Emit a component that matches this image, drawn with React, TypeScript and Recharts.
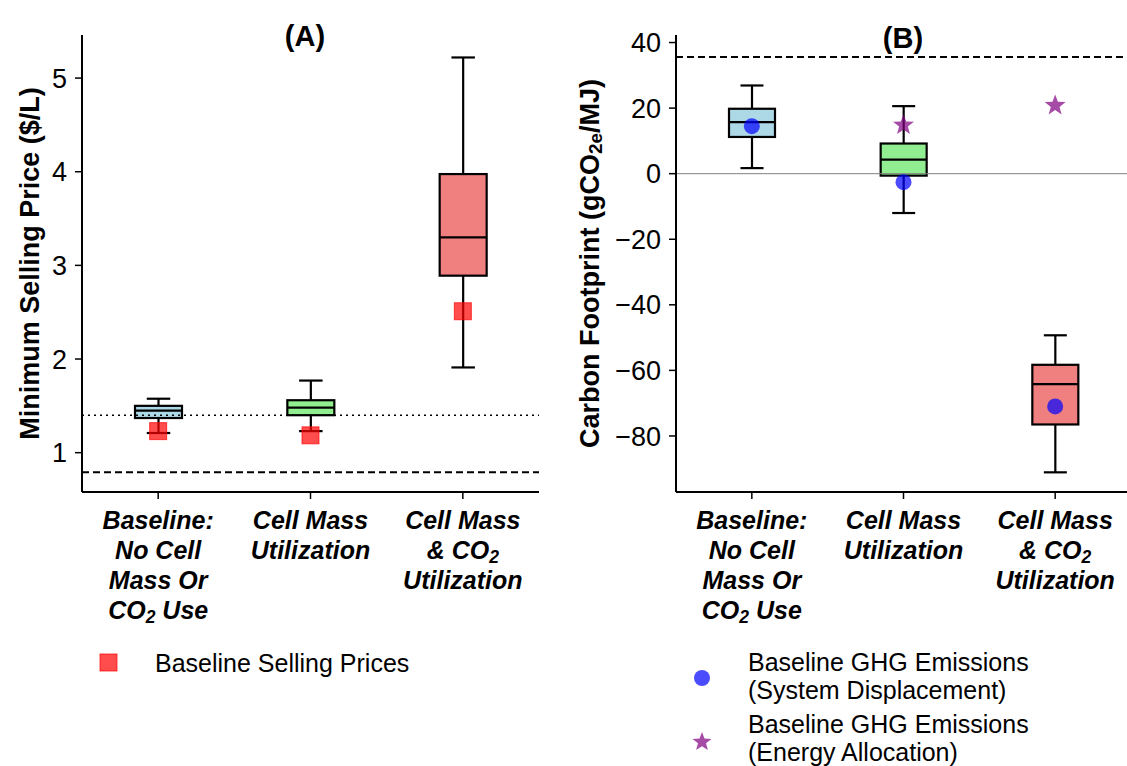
import React from 'react'
import { ComposedChart, Bar, Scatter, XAxis, YAxis, ReferenceLine } from 'recharts'

// categories and their multi-line tick labels ({..} = subscript)
const categories = ['Baseline', 'Cell Mass', 'Cell Mass & CO2']
const categoryLines = [
  ['Baseline:', 'No Cell', 'Mass Or', 'CO{2} Use'],
  ['Cell Mass', 'Utilization'],
  ['Cell Mass', '& CO{2}', 'Utilization'],
]
const boxColors = ['#ADD8E6', '#90EE90', '#F08080']

// (A) minimum selling price, $/L
const priceLow = [1.21, 1.23, 1.91]
const priceQ1 = [1.37, 1.4, 2.89]
const priceMedian = [1.45, 1.48, 3.3]
const priceQ3 = [1.5, 1.56, 3.975]
const priceHigh = [1.576, 1.77, 5.22]
const baselinePrice = [1.23, 1.185, 2.51]
const priceTicks = [1, 2, 3, 4, 5]
const priceDotted = 1.4
const priceDashed = 0.79

// (B) carbon footprint, gCO2e/MJ
const ghgLow = [1.7, -12.0, -91.1]
const ghgQ1 = [11.2, -0.6, -76.5]
const ghgMedian = [15.7, 4.3, -64.2]
const ghgQ3 = [19.8, 9.2, -58.3]
const ghgHigh = [26.9, 20.6, -49.3]
const displacement = [14.5, -2.6, -71.0]
const allocation: (number | null)[] = [null, 14.8, 20.8]
const ghgTicks = [-80, -60, -40, -20, 0, 20, 40]
const ghgDashed = 35.6

const FONT = '"Liberation Sans", Arial, sans-serif'
const CAT_SIZE = 25
const LEG_SIZE = 25

const priceRows = categories.map((name, i) => ({
  name,
  idx: i,
  range: [priceLow[i], priceHigh[i]],
  q1: priceQ1[i],
  med: priceMedian[i],
  q3: priceQ3[i],
  marker: baselinePrice[i],
}))

const ghgRows = categories.map((name, i) => ({
  name,
  idx: i,
  range: [ghgLow[i], ghgHigh[i]],
  q1: ghgQ1[i],
  med: ghgMedian[i],
  q3: ghgQ3[i],
  dot: displacement[i],
  star: allocation[i],
}))

// splits "CO{2} Use" into normal / subscript pieces
function renderSub(s: string, size: number, shift = 0.14) {
  const parts = s.split(/(\{[^}]*\})/).filter(Boolean)
  let shifted = false
  return parts.map((p, i) => {
    if (p.startsWith('{')) {
      shifted = true
      return <tspan key={i} fontSize={size * 0.7} dy={size * shift}>{p.slice(1, -1)}</tspan>
    }
    const dy = shifted ? -size * shift : 0
    shifted = false
    return <tspan key={i} dy={dy}>{p}</tspan>
  })
}

const CategoryTick = (props: any) => {
  const { x, y, payload } = props
  const lines = categoryLines[payload.index] || []
  return (
    <g>
      {lines.map((ln, i) => (
        <text key={i} x={x} y={y + 28 + i * 30} textAnchor="middle" fontFamily={FONT}
          fontWeight="bold" fontStyle="italic" fontSize={CAT_SIZE} fill="#000">
          {renderSub(ln, CAT_SIZE)}
        </text>
      ))}
    </g>
  )
}

const BoxShape = (props: any) => {
  const { x, y, width, height, payload } = props
  const lo = payload.range[0]
  const hi = payload.range[1]
  const py = (v: number) => y + ((hi - v) / (hi - lo)) * height
  const cx = x + width / 2
  const cap = width / 4
  return (
    <g stroke="#000" strokeWidth={2.2}>
      <line x1={cx} x2={cx} y1={py(hi)} y2={py(payload.q3)} />
      <line x1={cx} x2={cx} y1={py(payload.q1)} y2={py(lo)} />
      <line x1={cx - cap} x2={cx + cap} y1={py(hi)} y2={py(hi)} />
      <line x1={cx - cap} x2={cx + cap} y1={py(lo)} y2={py(lo)} />
      <rect x={x} width={width} y={py(payload.q3)} height={py(payload.q1) - py(payload.q3)}
        fill={boxColors[payload.idx]} />
      <line x1={x} x2={x + width} y1={py(payload.med)} y2={py(payload.med)} />
    </g>
  )
}

const SquareMarker = (props: any) => {
  const { cx, cy } = props
  if (cx == null || cy == null || isNaN(cy)) return null
  return <rect x={cx - 8.5} y={cy - 8.5} width={17} height={17} fill="rgb(255,0,0)" fillOpacity={0.7}
    stroke="rgb(255,0,0)" strokeOpacity={0.7} strokeWidth={1} />
}

const CircleMarker = (props: any) => {
  const { cx, cy } = props
  if (cx == null || cy == null || isNaN(cy)) return null
  return <circle cx={cx} cy={cy} r={8} fill="rgb(0,0,255)" fillOpacity={0.7} />
}

function starPath(cx: number, cy: number, ro: number, ri: number) {
  const pts: string[] = []
  for (let k = 0; k < 10; k++) {
    const r = k % 2 === 0 ? ro : ri
    const a = -Math.PI / 2 + (k * Math.PI) / 5
    pts.push(`${cx + r * Math.cos(a)},${cy + r * Math.sin(a)}`)
  }
  return `M${pts.join('L')}Z`
}

const StarMarker = (props: any) => {
  const { cx, cy, payload } = props
  if (payload?.star == null || cx == null || cy == null || isNaN(cy)) return null
  return <path d={starPath(cx, cy, 11, 4.6)} fill="rgb(128,0,128)" fillOpacity={0.7} />
}

const yLabel = (lines: string, cxOff: number) => (p: any) => {
  const vb = p.viewBox
  const cx = vb.x + cxOff
  const cy = vb.y + vb.height / 2
  return (
    <text x={cx} y={cy} transform={`rotate(-90 ${cx} ${cy})`} textAnchor="middle" dominantBaseline="central"
      fontFamily={FONT} fontWeight="bold" fontSize={27} fill="#000">
      {renderSub(lines, 27, 0.2)}
    </text>
  )
}

const tickStyle = { fill: '#000', fontSize: 27, fontFamily: FONT }
const axisLine = { stroke: '#000', strokeWidth: 2 }
const tickLine = { stroke: '#000', strokeWidth: 1.5 }
const minus = (v: number) => (v < 0 ? `\u2212${Math.abs(v)}` : `${v}`)

export default function App() {
  return (
    <div style={{ position: 'absolute', left: 0, top: 0, width: 1127, height: 766, overflow: 'hidden', background: '#fff', fontFamily: FONT }}>
      <div style={{ position: 'absolute', left: 0, top: 0 }}>
        <ComposedChart width={560} height={640} data={priceRows} margin={{ top: 35, right: 21, left: 0, bottom: 0 }}>
          <XAxis dataKey="name" interval={0} height={148} tickSize={7} axisLine={axisLine} tickLine={tickLine}
            tick={<CategoryTick />} />
          <YAxis width={82} domain={[0.58, 5.46]} allowDataOverflow ticks={priceTicks} tickSize={7} tickMargin={8}
            axisLine={axisLine} tickLine={tickLine} tick={tickStyle}
            label={{ content: yLabel('Minimum Selling Price ($/L)', 30) }} />
          <Bar dataKey="range" barSize={47} shape={<BoxShape />} isAnimationActive={false} />
          <ReferenceLine y={priceDotted} stroke="#000" strokeWidth={1.5} strokeDasharray="2 4" />
          <ReferenceLine y={priceDashed} stroke="#000" strokeWidth={2} strokeDasharray="7 4" />
          <Scatter dataKey="marker" shape={<SquareMarker />} isAnimationActive={false} />
        </ComposedChart>
      </div>
      <div style={{ position: 'absolute', left: 560, top: 0 }}>
        <ComposedChart width={571} height={640} data={ghgRows} margin={{ top: 35, right: 0, left: 0, bottom: 0 }}>
          <XAxis dataKey="name" interval={0} height={148} tickSize={7} axisLine={axisLine} tickLine={tickLine}
            tick={<CategoryTick />} />
          <YAxis width={116} domain={[-97.1, 42.3]} allowDataOverflow ticks={ghgTicks} tickSize={7} tickMargin={8}
            axisLine={axisLine} tickLine={tickLine} tick={tickStyle} tickFormatter={minus}
            label={{ content: yLabel('Carbon Footprint (gCO{2e}/MJ)', 30) }} />
          <ReferenceLine y={0} stroke="#808080" strokeWidth={1} />
          <Bar dataKey="range" barSize={46} shape={<BoxShape />} isAnimationActive={false} />
          <ReferenceLine y={ghgDashed} stroke="#000" strokeWidth={2} strokeDasharray="7 4" />
          <Scatter dataKey="dot" shape={<CircleMarker />} isAnimationActive={false} />
          <Scatter dataKey="star" shape={<StarMarker />} isAnimationActive={false} />
        </ComposedChart>
      </div>

      <div style={{ position: 'absolute', left: 205, width: 200, top: 19, textAlign: 'center', fontWeight: 'bold', fontSize: 29, lineHeight: '34px' }}>(A)</div>
      <div style={{ position: 'absolute', left: 803, width: 200, top: 21, textAlign: 'center', fontWeight: 'bold', fontSize: 29, lineHeight: '34px' }}>(B)</div>

      <svg style={{ position: 'absolute', left: 0, top: 620 }} width={1127} height={146}>
        <rect x={100} y={34} width={17} height={17} fill="rgb(255,0,0)" fillOpacity={0.7} stroke="rgb(255,0,0)" strokeOpacity={0.7} />
        <text x={155} y={52} fontFamily={FONT} fontSize={LEG_SIZE} fill="#000">Baseline Selling Prices</text>
        <circle cx={702} cy={58} r={8} fill="rgb(0,0,255)" fillOpacity={0.7} />
        <text x={748} y={51} fontFamily={FONT} fontSize={LEG_SIZE} fill="#000">Baseline GHG Emissions</text>
        <text x={748} y={79} fontFamily={FONT} fontSize={LEG_SIZE} fill="#000">(System Displacement)</text>
        <path d={starPath(702, 122, 10, 4.2)} fill="rgb(128,0,128)" fillOpacity={0.7} />
        <text x={748} y={113} fontFamily={FONT} fontSize={LEG_SIZE} fill="#000">Baseline GHG Emissions</text>
        <text x={748} y={141} fontFamily={FONT} fontSize={LEG_SIZE} fill="#000">(Energy Allocation)</text>
      </svg>
    </div>
  )
}
